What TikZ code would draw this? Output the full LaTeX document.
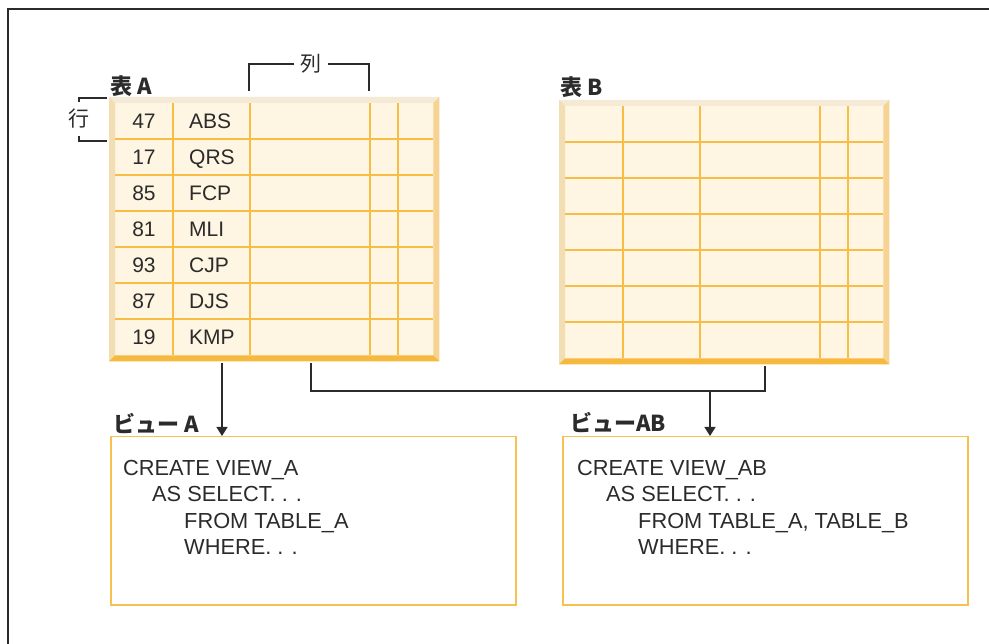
\documentclass[tikz,border=0pt]{standalone}
\usepackage{fontspec}
\setmainfont{Liberation Sans}
\newfontfamily\jpfont{Noto Sans CJK JP}
\usetikzlibrary{arrows.meta,calc}

\definecolor{inkgray}{HTML}{2B2B2B}
\definecolor{cellcream}{HTML}{FEF6E2}
\definecolor{gridgold}{HTML}{F7BD45}
\definecolor{bevtop}{HTML}{F5EAD5}
\definecolor{bevleft}{HTML}{F3DEB3}
\definecolor{bevright}{HTML}{F6D393}
\definecolor{bevbottom}{HTML}{F7B93D}
\definecolor{boxgold}{HTML}{F8C04F}

\begin{document}
\begin{tikzpicture}[x=1pt,y=-1pt,
  tabframe/.style={minimum width=330pt,minimum height=264pt,inner sep=0pt,fill=cellcream,anchor=north west},
  grid/.style={draw=gridgold,line width=1.5pt},
  cell/.style={font=\fontsize{21}{25}\selectfont,text=inkgray,text height=15pt,text depth=0pt,inner sep=0pt},
  title/.style={font=\jpfont\bfseries\fontsize{22}{26}\selectfont,text=inkgray,anchor=west,inner sep=0pt},
  note/.style={font=\jpfont\fontsize{21}{25}\selectfont,text=inkgray},
  viewbox/.style={draw=boxgold,line width=1.5pt,minimum width=405pt,minimum height=168pt,anchor=north west},
  code/.style={font=\fontsize{21.8}{26.3}\selectfont,text=inkgray,align=left,anchor=north west,inner sep=0pt},
  link/.style={draw=inkgray,line width=1.3pt},
  tip/.style={-{Triangle[length=9pt,width=11pt]}}]
\useasboundingbox (0,0) rectangle (989,644);
\draw[inkgray,line width=1.5pt] (989,9) -- (8,9) -- (8,644);

% tables
\foreach \nm/\ox/\oy in {tabA/109/97,tabB/559/100}{
  \node[tabframe] (\nm) at (\ox,\oy) {};
  \fill[bevtop] (\nm.north west) -- (\nm.north east) -- ++(-6,6) -- ($(\nm.north west)+(6,6)$) -- cycle;
  \fill[bevleft] (\nm.north west) -- ($(\nm.north west)+(6,6)$) -- ($(\nm.south west)+(6,-6)$) -- (\nm.south west) -- cycle;
  \fill[bevright] (\nm.north east) -- ($(\nm.north east)+(-6,6)$) -- ($(\nm.south east)+(-6,-6)$) -- (\nm.south east) -- cycle;
  \fill[bevbottom] (\nm.south west) -- ($(\nm.south west)+(6,-6)$) -- ($(\nm.south east)+(-6,-6)$) -- (\nm.south east) -- cycle;
  \foreach \r in {1,...,6}
    \draw[grid] (\ox+6,\oy+6+36*\r) -- ++(318,0);
  \foreach \c in {58,135,255,283}
    \draw[grid] (\ox+6+\c,\oy+6) -- ++(0,252);
}

\foreach \num/\key [count=\i] in {47/ABS,17/QRS,85/FCP,81/MLI,93/CJP,87/DJS,19/KMP}{
  \node[cell] (num\i) at (144,85+36*\i) {\num};
  \node[cell,anchor=west] (key\i) at (189,85+36*\i) {\key};
}

\node[title] (titleA) at (110,86) {表 A};
\node[title] (titleB) at (560,87) {表 B};

% row and column brackets
\node[note,inner sep=6pt] (colLbl) at (311,64) {列};
\coordinate (colL) at (249,91);
\coordinate (colR) at (369,91);
\draw[link] (colLbl.west) -| (colL);
\draw[link] (colLbl.east) -| (colR);
\node[note,inner sep=0pt,minimum height=33pt] (rowLbl) at (79,119) {行};
\coordinate (rowT) at (107,98);
\coordinate (rowB) at (107,141);
\draw[link] (rowLbl.north) |- (rowT);
\draw[link] (rowLbl.south) |- (rowB);

% views
\node[viewbox] (viewA) at (110,436) {};
\node[viewbox] (viewAB) at (562,436) {};
\node[title] (titleVA) at (113,424) {ビュー A};
\node[title] (titleVAB) at (570,423) {ビューAB};
\node[code] (codeA) at (123,460) {CREATE VIEW\_A\\\hspace*{29pt}AS SELECT. . .\\\hspace*{61pt}FROM TABLE\_A\\\hspace*{61pt}WHERE. . .};
\node[code] (codeAB) at (577,460) {CREATE VIEW\_AB\\\hspace*{29pt}AS SELECT. . .\\\hspace*{61pt}FROM TABLE\_A, TABLE\_B\\\hspace*{61pt}WHERE. . .};

% connectors
\coordinate (outA) at ($(tabA.south west)+(113,2)$);
\coordinate (joinA) at ($(tabA.south west)+(202,2)$);
\coordinate (joinB) at ($(tabB.south west)+(206,2)$);
\coordinate (merge) at (710,391);
\draw[link,tip] (outA) -- (outA |- viewA.north);
\draw[link] (joinA) |- (merge) -| (joinB);
\draw[link,tip] (merge) -- (merge |- viewAB.north);
\end{tikzpicture}
\end{document}
